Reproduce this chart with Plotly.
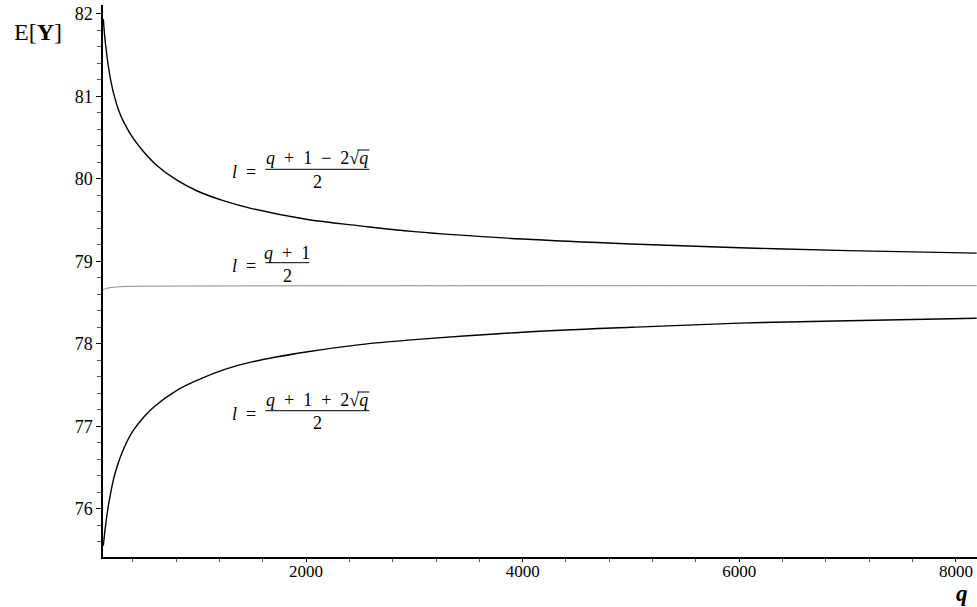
import plotly.graph_objects as go

# Expected value E[Y] against field size q for three choices of l
q_upper = [128, 140, 155, 175, 200, 230, 270, 320, 400, 500, 625, 800, 1000, 1250,
           1500, 2000, 2500, 3000, 4000, 5000, 6000, 7000, 8192]
ey_upper = [81.94, 81.74, 81.56, 81.36, 81.17, 81.00, 80.83, 80.68, 80.50, 80.33,
            80.16, 79.99, 79.85, 79.73, 79.64, 79.51, 79.43, 79.36, 79.27, 79.21,
            79.165, 79.13, 79.10]

q_mid = [128, 160, 200, 300, 400, 800, 2000, 4000, 8192]
ey_mid = [78.66, 78.672, 78.682, 78.693, 78.697, 78.70, 78.703, 78.704, 78.705]

q_lower = [128, 140, 155, 175, 200, 230, 270, 320, 400, 500, 600, 800, 1000, 1250,
           1500, 2000, 2500, 3000, 4000, 5000, 6000, 7000, 8192]
ey_lower = [75.55, 75.70, 75.86, 76.04, 76.22, 76.40, 76.57, 76.74, 76.94, 77.11,
            77.24, 77.43, 77.56, 77.69, 77.78, 77.90, 77.99, 78.05, 78.14, 78.20,
            78.25, 78.28, 78.31]

x_ticks = [2000, 4000, 6000, 8000]
y_ticks = [76, 77, 78, 79, 80, 81, 82]

W, H = 977, 607
ML, MR, MT, MB = 102.5, 0, 5, 50
PW, PH = W - ML - MR, H - MT - MB

def px(x):
    return (x - ML) / PW

def py(y):
    return (H - MB - y) / PH

SERIF = "Liberation Serif, Times New Roman, DejaVu Serif, serif"

fig = go.Figure()
fig.add_trace(go.Scatter(x=q_upper, y=ey_upper, mode="lines", line_shape="spline",
                         line=dict(color="black", width=1.4), hoverinfo="skip"))
fig.add_trace(go.Scatter(x=q_mid, y=ey_mid, mode="lines", line_shape="spline",
                         line=dict(color="#888888", width=1), hoverinfo="skip"))
fig.add_trace(go.Scatter(x=q_lower, y=ey_lower, mode="lines", line_shape="spline",
                         line=dict(color="black", width=1.4), hoverinfo="skip"))

annotations = []
shapes = []

def add_text(x, y, text, size=16, anchor="center"):
    annotations.append(dict(xref="paper", yref="paper", x=px(x), y=py(y), text=text,
                            showarrow=False, xanchor=anchor, yanchor="middle",
                            font=dict(family=SERIF, size=size, color="black")))

def add_bar(x0, x1, y):
    shapes.append(dict(type="line", xref="paper", yref="paper", x0=px(x0), x1=px(x1),
                       y0=py(y), y1=py(y), line=dict(color="black", width=1)))

sp = "\u2002"
q = "<i>q</i>"

def fraction_label(y_num, y_bar, y_den, numer, x_end, sqrt_over=None):
    add_text(243.5, y_bar + 3, "<i>l</i>" + sp + "=", size=18)
    add_text((265 + x_end) / 2, y_num, numer, size=18)
    add_bar(265, x_end, y_bar)
    add_text((265 + x_end) / 2, y_den, "2", size=18)
    if sqrt_over:
        add_bar(sqrt_over[0], sqrt_over[1], sqrt_over[2])

fraction_label(158, 169.3, 182,
               q + sp + "+" + sp + "1" + sp + "\u2212" + sp + "2\u221a" + q, 369,
               sqrt_over=(357, 369, 150))
fraction_label(253.3, 262.7, 275.5, q + sp + "+" + sp + "1", 309)
fraction_label(400, 410.7, 423,
               q + sp + "+" + sp + "1" + sp + "+" + sp + "2\u221a" + q, 369,
               sqrt_over=(357, 369, 392))

# axis titles
add_text(37, 32, "E[<b>Y</b>]", size=24)
add_text(962, 593, "<b><i>q</i></b>", size=23)

fig.update_layout(
    width=W, height=H,
    margin=dict(l=ML, r=MR, t=MT, b=MB),
    paper_bgcolor="white", plot_bgcolor="white",
    showlegend=False,
    annotations=annotations, shapes=shapes,
    xaxis=dict(range=[125, 8195], tickvals=x_ticks, ticks="outside", ticklen=3,
               tickcolor="black", showgrid=False, zeroline=False, showline=True,
               linecolor="black", linewidth=1.5, ticklabelstandoff=-5,
               tickfont=dict(family=SERIF, size=17, color="black"),
               minor=dict(dtick=400, tick0=0, ticks="outside", ticklen=3,
                          tickcolor="#555555", showgrid=False)),
    yaxis=dict(range=[75.414, 82.109], tickvals=y_ticks, ticks="outside", ticklen=5,
               tickcolor="black", showgrid=False, zeroline=False, showline=True,
               linecolor="black", linewidth=1.5, ticklabelstandoff=0,
               tickfont=dict(family=SERIF, size=18, color="black"),
               minor=dict(dtick=0.2, tick0=0, ticks="outside", ticklen=4,
                          tickcolor="#555555", showgrid=False)),
)

fig.write_html("out.html")
